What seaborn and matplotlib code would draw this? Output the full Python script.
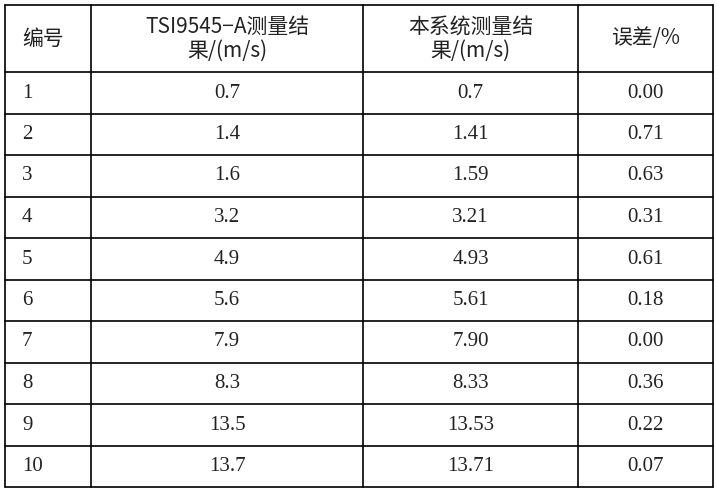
import matplotlib
matplotlib.use("Agg")
import matplotlib.pyplot as plt
import seaborn as sns

sns.set_theme(style="white")
plt.rcParams['font.family'] = ['Noto Sans CJK SC', 'DejaVu Sans']

headers = ["编号", "TSI9545−A测量结\n果/(m/s)", "本系统测量结\n果/(m/s)", "误差/%"]
ids = ["1", "2", "3", "4", "5", "6", "7", "8", "9", "10"]
tsi = ["0.7", "1.4", "1.6", "3.2", "4.9", "5.6", "7.9", "8.3", "13.5", "13.7"]
sys_vals = ["0.7", "1.41", "1.59", "3.21", "4.93", "5.61", "7.90", "8.33", "13.53", "13.71"]
err = ["0.00", "0.71", "0.63", "0.31", "0.61", "0.18", "0.00", "0.36", "0.22", "0.07"]

col_x = [5, 91, 363, 578, 713]
row_y = [5, 72, 114, 155, 197, 238, 280, 321, 363, 404, 446, 487]

fig = plt.figure(figsize=(7.17, 4.92), dpi=100)
ax = fig.add_axes([0, 0, 1, 1])
ax.set_xlim(0, 717)
ax.set_ylim(492, 0)
ax.axis("off")

for x in col_x:
    ax.plot([x, x], [row_y[0], row_y[-1]], color="black", lw=1.2)
for y in row_y:
    ax.plot([col_x[0], col_x[-1]], [y, y], color="black", lw=1.2)

hy = (row_y[0] + row_y[1]) / 2
ax.text(22, hy, headers[0], ha="left", va="center", fontsize=15, color="#222")
for c in range(1, 4):
    ax.text((col_x[c] + col_x[c + 1]) / 2, hy, headers[c], ha="center", va="center",
            fontsize=15, color="#222", linespacing=1.1)

serif = ['Liberation Serif', 'DejaVu Serif']
for i in range(len(ids)):
    y = (row_y[i + 1] + row_y[i + 2]) / 2
    ax.text(22, y, ids[i], ha="left", va="center", fontsize=15, family=serif, color="#222")
    for c, vals in zip(range(1, 4), [tsi, sys_vals, err]):
        ax.text((col_x[c] + col_x[c + 1]) / 2, y, vals[i], ha="center", va="center",
                fontsize=15, family=serif, color="#222")

fig.savefig("out.png", dpi=100)
